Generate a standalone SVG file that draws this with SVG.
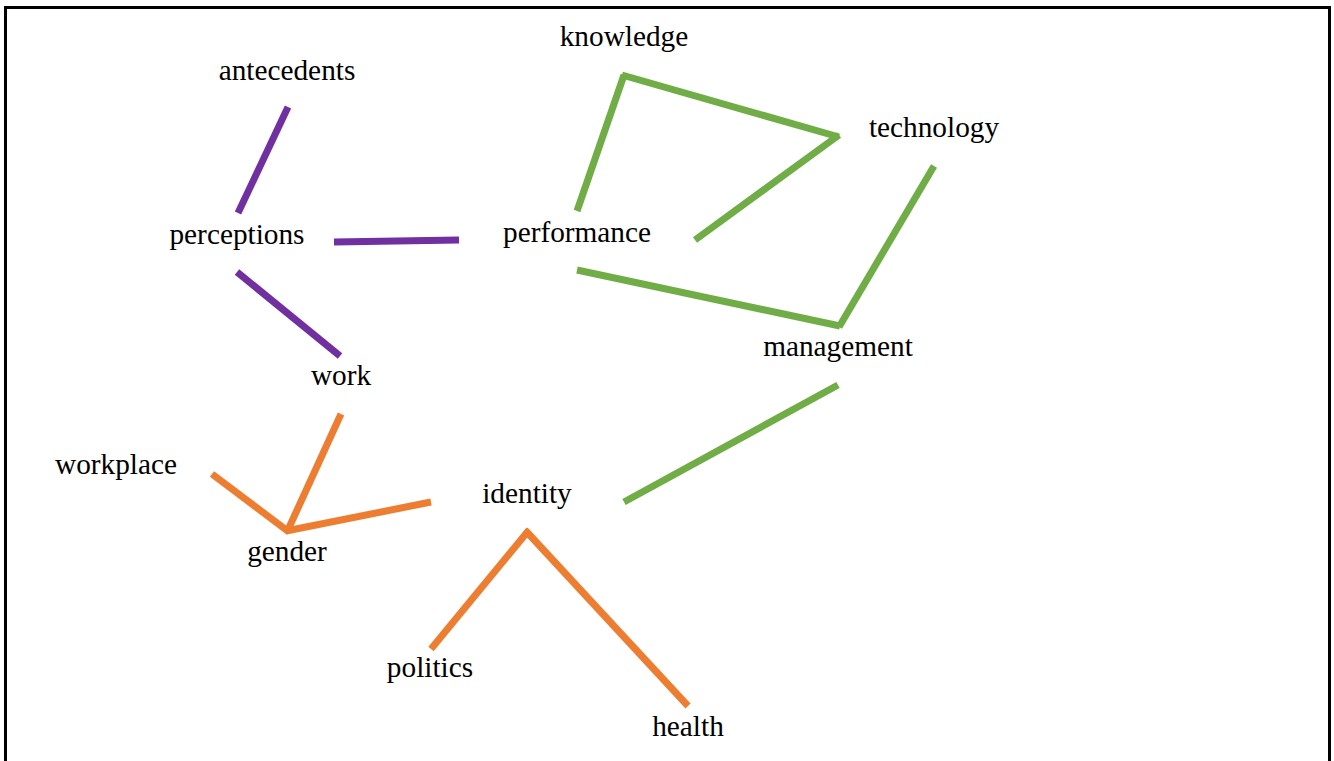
<svg xmlns="http://www.w3.org/2000/svg" width="1334" height="761" viewBox="0 0 1334 761">
  <style>
    .lbl { font-family: 'Liberation Serif', 'DejaVu Serif', 'Noto Serif', serif; font-size: 29.3px; fill: #000; text-anchor: middle; }
    .c { fill: none; stroke-width: 7; stroke-linecap: butt; }
    .p { stroke: #7030A0; }
    .g { stroke: #70AD47; }
    .o { stroke: #ED7D31; }
  </style>
  <rect x="0" y="0" width="1334" height="761" fill="#fff"/>
  <rect x="5.5" y="7.5" width="1324" height="760" fill="none" stroke="#000" stroke-width="3"/>
  <g id="connectors">
    <line class="c p" x1="288" y1="107" x2="238" y2="213"/>
    <line class="c p" x1="334" y1="242" x2="459" y2="240"/>
    <line class="c p" x1="237" y1="272" x2="340" y2="356"/>
    <line class="c g" x1="577" y1="211" x2="624" y2="75"/>
    <line class="c g" x1="622" y1="75" x2="839" y2="137"/>
    <line class="c g" x1="839" y1="135" x2="695" y2="240"/>
    <line class="c g" x1="934" y1="166" x2="839" y2="327"/>
    <line class="c g" x1="577" y1="270" x2="840" y2="326"/>
    <line class="c g" x1="838" y1="385" x2="624" y2="502"/>
    <line class="c o" x1="341" y1="414" x2="287" y2="532"/>
    <line class="c o" x1="212" y1="474" x2="289" y2="532"/>
    <line class="c o" x1="286" y1="531" x2="431" y2="502"/>
    <line class="c o" x1="529" y1="530" x2="431" y2="649"/>
    <line class="c o" x1="525" y1="530" x2="688" y2="706"/>
  </g>
  <g id="node-antecedents"><text class="lbl" x="287" y="80">antecedents</text></g>
  <g id="node-knowledge"><text class="lbl" x="624" y="46">knowledge</text></g>
  <g id="node-technology"><text class="lbl" x="934" y="137">technology</text></g>
  <g id="node-perceptions"><text class="lbl" x="237" y="244">perceptions</text></g>
  <g id="node-performance"><text class="lbl" x="577" y="242">performance</text></g>
  <g id="node-management"><text class="lbl" x="838" y="356">management</text></g>
  <g id="node-work"><text class="lbl" x="341" y="385">work</text></g>
  <g id="node-workplace"><text class="lbl" x="116" y="474">workplace</text></g>
  <g id="node-identity"><text class="lbl" x="527" y="503">identity</text></g>
  <g id="node-gender"><text class="lbl" x="287" y="561">gender</text></g>
  <g id="node-politics"><text class="lbl" x="430" y="677">politics</text></g>
  <g id="node-health"><text class="lbl" x="688" y="736">health</text></g>
</svg>
